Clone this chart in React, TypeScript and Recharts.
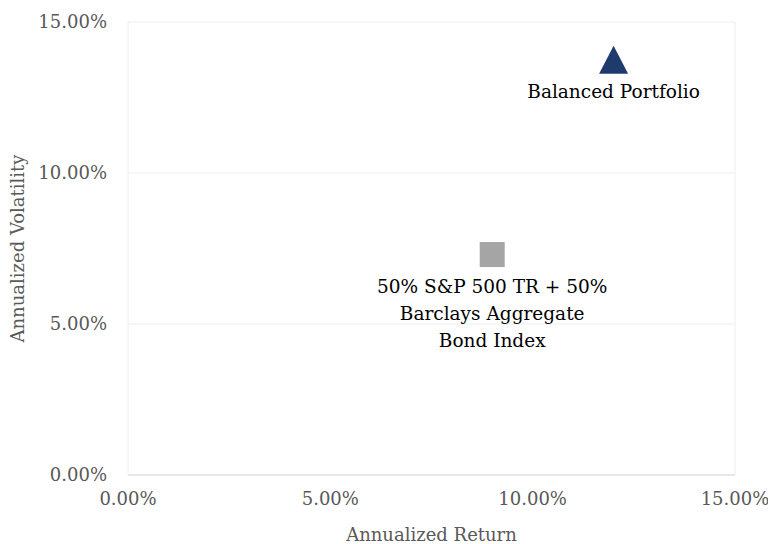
import React from "react";
import {
  CartesianGrid,
  Label,
  ReferenceLine,
  Scatter,
  ScatterChart,
  XAxis,
  YAxis,
} from "recharts";

const NAMES = ["Balanced Portfolio", "50% S&P 500 TR + 50% Barclays Aggregate Bond Index"];
const LABEL_LINES = [
  ["Balanced Portfolio"],
  ["50% S&P 500 TR + 50%", "Barclays Aggregate", "Bond Index"],
];
const RETURNS = [12.0, 9.0];
const VOLATILITY = [13.75, 7.3];
const TICKS = [0, 5, 10, 15];

const FONT = "'DejaVu Serif', serif";
const TICK_COLOR = "#595959";
const GRID = "#EEEEEE";
const NAVY = "#1F3B6E";
const GREY = "#A5A5A5";

const points = NAMES.map((name, i) => ({
  name,
  lines: LABEL_LINES[i],
  ret: RETURNS[i],
  vol: VOLATILITY[i],
}));

const pct = (v: number) => `${v.toFixed(2)}%`;

function PointLabel({ cx, cy, lines }: { cx: number; cy: number; lines: string[] }) {
  return (
    <text x={cx} y={cy + 38} textAnchor="middle" fontFamily={FONT} fontSize={18.5} fill="#000">
      {lines.map((l, i) => (
        <tspan key={i} x={cx} dy={i === 0 ? 0 : 27}>
          {l}
        </tspan>
      ))}
    </text>
  );
}

function Triangle(props: any) {
  const { cx, cy, payload } = props;
  return (
    <g>
      <polygon points={`${cx},${cy - 14} ${cx + 14.5},${cy + 14} ${cx - 14.5},${cy + 14}`} fill={NAVY} />
      <PointLabel cx={cx} cy={cy} lines={payload.lines} />
    </g>
  );
}

function Square(props: any) {
  const { cx, cy, payload } = props;
  return (
    <g>
      <rect x={cx - 12.5} y={cy - 12.5} width={25} height={25} fill={GREY} />
      <PointLabel cx={cx} cy={cy} lines={payload.lines} />
    </g>
  );
}

export default function App() {
  return (
    <div style={{ position: "absolute", left: 0, top: 0, width: 768, height: 544, background: "#fff" }}>
      <ScatterChart width={768} height={544} margin={{ top: 22, right: 33, left: 0, bottom: 0 }}>
        <CartesianGrid stroke={GRID} vertical={false} />
        <ReferenceLine x={15} stroke={GRID} />
        <XAxis
          type="number"
          dataKey="ret"
          domain={[0, 15]}
          ticks={TICKS}
          tickFormatter={pct}
          height={69}
          tickLine={false}
          tickSize={0}
          tickMargin={17}
          axisLine={{ stroke: "#D9D9D9" }}
          tick={{ fill: TICK_COLOR, fontSize: 18, fontFamily: FONT }}
        >
          <Label
            content={({ viewBox }: any) => (
              <text
                x={viewBox.x + viewBox.width / 2}
                y={541}
                textAnchor="middle"
                fontFamily={FONT}
                fontSize={18}
                fill={TICK_COLOR}
              >
                Annualized Return
              </text>
            )}
          />
        </XAxis>
        <YAxis
          type="number"
          dataKey="vol"
          domain={[0, 15]}
          ticks={TICKS}
          tickFormatter={pct}
          width={128}
          tickLine={false}
          tickSize={0}
          tickMargin={21}
          axisLine={{ stroke: GRID }}
          tick={{ fill: TICK_COLOR, fontSize: 18, fontFamily: FONT }}
        >
          <Label
            content={({ viewBox }: any) => (
              <text
                x={24}
                y={viewBox.y + viewBox.height / 2}
                textAnchor="middle"
                transform={`rotate(-90 24 ${viewBox.y + viewBox.height / 2})`}
                fontFamily={FONT}
                fontSize={18}
                fill={TICK_COLOR}
              >
                Annualized Volatility
              </text>
            )}
          />
        </YAxis>
        <Scatter data={[points[0]]} shape={Triangle} isAnimationActive={false} />
        <Scatter data={[points[1]]} shape={Square} isAnimationActive={false} />
      </ScatterChart>
    </div>
  );
}
